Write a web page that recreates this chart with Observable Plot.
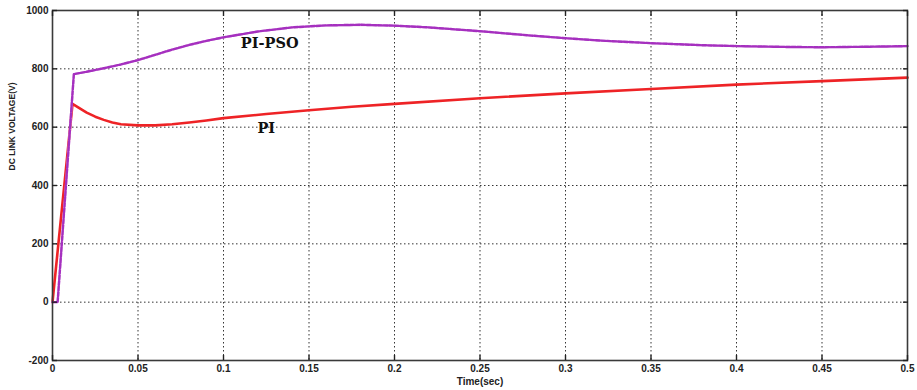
<!DOCTYPE html>
<html>
<head>
<meta charset="utf-8">
<script src="https://cdn.jsdelivr.net/npm/d3@7"></script>
<script src="https://cdn.jsdelivr.net/npm/@observablehq/plot@0.6"></script>
<style>
  html, body { margin: 0; padding: 0; background: #fff; }
</style>
</head>
<body>
<div id="chart"></div>
<script>
// ---- data ----
const xTicks = [0, 0.05, 0.1, 0.15, 0.2, 0.25, 0.3, 0.35, 0.4, 0.45, 0.5];
const yTicks = [-200, 0, 200, 400, 600, 800, 1000];

const timePso = [0, 0.003, 0.0125, 0.02, 0.03, 0.04, 0.05, 0.06, 0.07, 0.08, 0.09, 0.1, 0.12, 0.14, 0.16, 0.18, 0.2, 0.22, 0.25, 0.28, 0.3, 0.32, 0.35, 0.38, 0.4, 0.43, 0.45, 0.48, 0.5];
const voltPso = [0, 0, 782, 790, 802, 815, 830, 848, 866, 882, 896, 908, 928, 942, 949, 951, 948, 942, 929, 914, 905, 897, 888, 881, 878, 875, 874, 876, 878];

const timePi = [0, 0.0117, 0.015, 0.02, 0.025, 0.03, 0.035, 0.04, 0.05, 0.06, 0.07, 0.08, 0.09, 0.1, 0.125, 0.15, 0.175, 0.2, 0.25, 0.3, 0.35, 0.4, 0.45, 0.5];
const voltPi = [0, 680, 668, 650, 636, 625, 616, 610, 606, 606, 610, 616, 623, 631, 645, 658, 670, 680, 699, 716, 731, 746, 758, 770];

const seriesLabels = [
  {name: "PI-PSO", t: 0.127, v: 888},
  {name: "PI", t: 0.125, v: 597}
];

const psoData = timePso.map((t, i) => ({t, v: voltPso[i]}));
const piData = timePi.map((t, i) => ({t, v: voltPi[i]}));

const gridStyle = {stroke: "#111", strokeOpacity: 0.85, strokeWidth: 1, strokeDasharray: "1.5,2.5"};
const noText = () => "";

const chart = Plot.plot({
  width: 917,
  height: 390,
  marginLeft: 52,
  marginRight: 10,
  marginTop: 10,
  marginBottom: 30,
  x: {domain: [0, 0.5]},
  y: {domain: [-200, 1000]},
  style: {fontFamily: "'Liberation Sans', Arial, sans-serif", fontSize: "10px", color: "#222", background: "#fff"},
  marks: [
    Plot.gridX(xTicks, gridStyle),
    Plot.gridY(yTicks, gridStyle),
    Plot.line(piData, {x: "t", y: "v", stroke: "#ee2326", strokeWidth: 2.6}),
    Plot.line(psoData, {x: "t", y: "v", stroke: "#e7b6ea", strokeWidth: 2.2}),
    Plot.line(psoData, {x: "t", y: "v", stroke: "#a530bf", strokeWidth: 2.4, strokeDasharray: "4,1.6"}),
    Plot.frame({stroke: "#3a3a3a", strokeWidth: 1.6}),
    // inward ticks on all sides
    Plot.axisX(xTicks, {anchor: "bottom", tickSize: -5, tickFormat: noText, label: null, stroke: "#222", strokeWidth: 1.4}),
    Plot.axisX(xTicks, {anchor: "top", tickSize: -5, tickFormat: noText, label: null, stroke: "#222", strokeWidth: 1.4}),
    Plot.axisY(yTicks, {anchor: "left", tickSize: -5, tickFormat: noText, label: null, stroke: "#222", strokeWidth: 1.4}),
    Plot.axisY(yTicks, {anchor: "right", tickSize: -5, tickFormat: noText, label: null, stroke: "#222", strokeWidth: 1.4}),
    // labels
    Plot.axisX(xTicks, {anchor: "bottom", tickSize: 0, tickPadding: 4, tickFormat: d => String(d),
      label: "Time(sec)", labelAnchor: "center", labelArrow: "none", labelOffset: 24, fontSize: 10, fontWeight: "bold"}),
    Plot.axisY(yTicks, {anchor: "left", tickSize: 0, tickPadding: 4, tickFormat: d => String(d), label: null, fontSize: 10, fontWeight: "bold"}),
    Plot.text(["DC LINK VOLTAGE(V)"], {frameAnchor: "left", rotate: -90, dx: -40, dy: -15, fontSize: 8.5, fontWeight: "bold", fill: "#222"}),
    Plot.text(seriesLabels, {x: "t", y: "v", text: "name", fontFamily: "'DejaVu Serif', serif", fontWeight: "bold", fontSize: 14.5, fill: "#111"})
  ]
});
document.getElementById("chart").appendChild(chart);
</script>
</body>
</html>
